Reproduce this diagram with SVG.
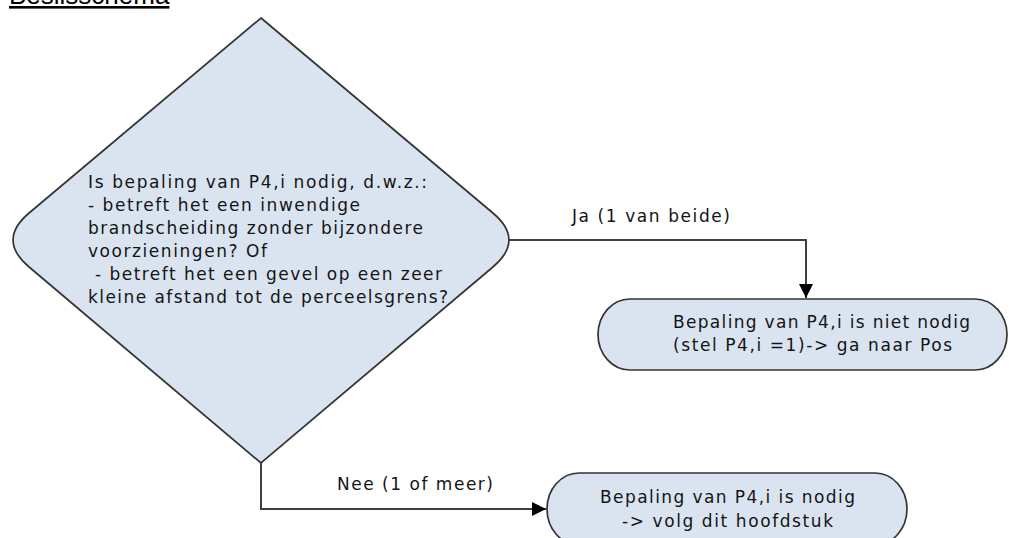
<svg xmlns="http://www.w3.org/2000/svg" width="1009" height="538" viewBox="0 0 1009 538">
<style>
.shape{fill:#dae4f0;stroke:#333;stroke-width:1.7}
.t{font-family:"DejaVu Sans",Verdana,sans-serif;font-size:17px;fill:#141414}
.conn{fill:none;stroke:#404040;stroke-width:2}
.title{font-family:"Liberation Sans",Arial,sans-serif;font-size:26px;fill:#000;text-decoration:underline}
</style>
<defs>
<marker id="arr" viewBox="0 0 14 14" refX="14" refY="7" markerWidth="14" markerHeight="14" markerUnits="userSpaceOnUse" orient="auto">
<path d="M0,0 L14,7 L0,14 Z" fill="#000"/>
</marker>
</defs>
<text class="title" x="9" y="4">Beslisschema</text>
<g id="connectors">
<path class="conn" d="M509,240 H806 V298" marker-end="url(#arr)"/>
<path class="conn" d="M261,463 V509 H546" marker-end="url(#arr)"/>
<text class="t" x="572" y="222" textLength="158">Ja (1 van beide)</text>
<text class="t" x="337" y="490" textLength="156">Nee (1 of meer)</text>
</g>
<g id="decision">
<path class="shape" d="M261,18 L492.9,213 Q525,240 492.9,267 L261,463 L29.1,267 Q-3,240 29.1,213 Z"/>
<text class="t" x="88" y="188" textLength="339">Is bepaling van P4,i nodig, d.w.z.:</text>
<text class="t" x="88" y="211" textLength="272">- betreft het een inwendige</text>
<text class="t" x="88" y="234" textLength="335">brandscheiding zonder bijzondere</text>
<text class="t" x="88" y="257" textLength="179">voorzieningen? Of</text>
<text class="t" x="95" y="280" textLength="347">- betreft het een gevel op een zeer</text>
<text class="t" x="88" y="303" textLength="360">kleine afstand tot de perceelsgrens?</text>
</g>
<g id="niet-nodig">
<rect class="shape" x="598" y="299" width="409" height="71" rx="32" ry="35.5"/>
<text class="t" x="673" y="328" textLength="297">Bepaling van P4,i is niet nodig</text>
<text class="t" x="673" y="351" textLength="279">(stel P4,i =1)-&gt; ga naar Pos</text>
</g>
<g id="nodig">
<rect class="shape" x="547" y="473" width="360" height="72" rx="32" ry="36"/>
<text class="t" x="600" y="503" textLength="255">Bepaling van P4,i is nodig</text>
<text class="t" x="622" y="527" textLength="211">-&gt; volg dit hoofdstuk</text>
</g>
</svg>
